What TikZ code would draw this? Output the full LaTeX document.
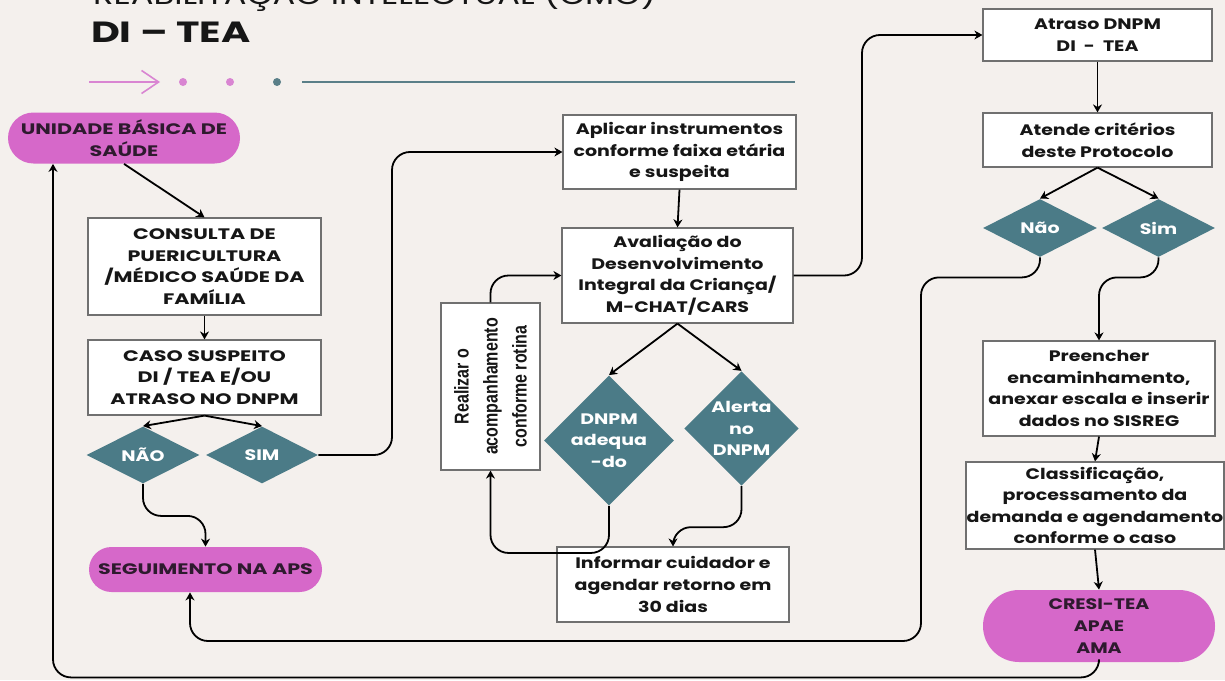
\documentclass[tikz,border=0pt]{standalone}
\usepackage{fontspec}
\usetikzlibrary{positioning, arrows.meta, calc, shapes.geometric, shapes.misc}
\newfontfamily\popfont{Poppins}[FakeStretch=1.25]
\newfontfamily\capfont{Poppins}[FakeStretch=1.36]
\newfontfamily\narrowfont{Liberation Sans}[FakeStretch=0.8]
\definecolor{paper}{HTML}{F4F0ED}
\definecolor{orchid}{HTML}{D668C9}
\definecolor{plum}{HTML}{2E1A2E}
\definecolor{slate}{HTML}{4B7B87}
\definecolor{edge}{HTML}{707070}
\definecolor{ink}{HTML}{161616}
\definecolor{rosy}{HTML}{D985D2}
\definecolor{steel}{HTML}{5A7F88}

\begin{document}
\begin{tikzpicture}[
  x=0.5pt, y=-0.5pt,
  font=\popfont\bfseries\fontsize{7.6}{10.8}\selectfont,
  every node/.style={align=center},
  caps/.style={font=\capfont\bfseries\fontsize{7.6}{10.8}\selectfont},
  box/.style={rectangle, draw=edge, line width=0.6pt, fill=white,
              inner sep=0pt, text=ink},
  pill/.style={rounded rectangle, fill=orchid, inner sep=0pt, text=plum},
  choice/.style={diamond, fill=slate, inner sep=0pt, text=white},
  arr/.style={-{Stealth[length=4pt,width=4.5pt]}, line width=0.9pt,
              rounded corners=9pt}
]
  \useasboundingbox (0,0) rectangle (1225,680);
  \clip (0,0) rectangle (1225,680);
  \fill[paper] (0,0) rectangle (1225,680);

  % header
  \node[anchor=base west, text=ink, font=\popfont\fontsize{13.5}{16}\selectfont]
    (heading) at (86,4.5) {REABILITAÇÃO INTELECTUAL (CMO)};
  \node[anchor=base west, text=ink, font=\capfont\bfseries\fontsize{14.6}{16}\selectfont]
    (subtitle) at (84,42) {DI – TEA};
  \draw[rosy, line width=0.8pt, -{Straight Barb[length=8.5pt,width=11.5pt]}] (89,82) -- (160,82);
  \fill[rosy] (183,82) circle (2pt);
  \fill[rosy] (230,82) circle (2pt);
  \fill[steel] (277,82) circle (2pt);
  \draw[steel, line width=1pt] (302,82) -- (795,82);

  % left column
  \node[pill, caps, minimum width=116pt, minimum height=25.5pt] (ubs) at (124,138)
    {UNIDADE BÁSICA DE\\SAÚDE};
  \node[box, caps, minimum width=116.5pt, minimum height=48.5pt] (consulta) at (204.5,266.5)
    {CONSULTA DE\\PUERICULTURA\\/MÉDICO SAÚDE DA\\FAMÍLIA};
  \node[box, caps, minimum width=116.5pt, minimum height=37.5pt] (caso) at (204.5,377.5)
    {CASO SUSPEITO\\DI / TEA E/OU\\ATRASO NO DNPM};
  \node[choice, minimum width=56.5pt, minimum height=28.5pt] (nao1) at (143,455) {NÃO};
  \node[choice, minimum width=56pt, minimum height=28.5pt] (sim1) at (262,455) {SIM};
  \node[pill, caps, minimum width=116.5pt, minimum height=22.5pt] (seg) at (205.5,569.5)
    {SEGUIMENTO NA APS};

  % middle column
  \node[box, minimum width=116.5pt, minimum height=37pt] (aplicar) at (679.5,152)
    {Aplicar instrumentos\\conforme faixa etária\\e suspeita};
  \node[box, minimum width=115.5pt, minimum height=47.5pt] (aval) at (677.5,275.5)
    {Avaliação do\\Desenvolvimento\\Integral da Criança/\\M-CHAT/CARS};
  \node[box, rotate=90, minimum width=83.5pt, minimum height=49.5pt,
        font=\narrowfont\bfseries\fontsize{10}{14.5}\selectfont] (realizar) at (490.5,386.5)
    {Realizar o\\acompanhamento\\conforme rotina};
  \node[choice, minimum width=63pt, minimum height=54.5pt] (adeq) at (609,440.5)
    {DNPM\\adequa\\-do};
  \node[choice, minimum width=56.5pt, minimum height=55.5pt] (alerta) at (741.5,428.5)
    {Alerta\\no\\DNPM};
  \node[box, minimum width=116pt, minimum height=37.5pt] (informar) at (673,584.5)
    {Informar cuidador e\\agendar retorno em\\30 dias};

  % right column
  \node[box, minimum width=114.5pt, minimum height=26pt] (atraso) at (1097.5,35)
    {Atraso DNPM\\DI \ - \ TEA};
  \node[box, minimum width=114.5pt, minimum height=27pt] (atende) at (1097.5,140)
    {Atende critérios\\deste Protocolo};
  \node[choice, minimum width=57pt, minimum height=29pt] (nao2) at (1040,228) {Não};
  \node[choice, minimum width=56.5pt, minimum height=29pt] (sim2) at (1158.5,228) {Sim};
  \node[box, minimum width=116pt, minimum height=47.5pt] (preencher) at (1099,388.5)
    {Preencher\\encaminhamento,\\anexar escala e inserir\\dados no SISREG};
  \node[box, minimum width=129pt, minimum height=43.5pt] (classif) at (1095,505.5)
    {Classificação,\\processamento da\\demanda e agendamento\\conforme o caso};
  \node[pill, minimum width=116pt, minimum height=36pt] (cresi) at (1099,626)
    {CRESI-TEA\\APAE\\AMA};

  % connectors
  \draw[arr] (ubs.south) -- (consulta.north);
  \draw[arr] (consulta.south) -- (caso.north);
  \draw[arr] (caso.south) -- (nao1.north);
  \draw[arr] (caso.south) -- (sim1.north);
  \draw[arr] (sim1.east) -| (392,152) -- (aplicar.west);
  \draw[arr] (nao1.south) -- ++(0,32) -| (seg.north);
  \draw[arr] (aplicar.south) -- (aval.north);
  \draw[arr] (aval.south) -- (adeq.north);
  \draw[arr] (aval.south) -- (alerta.north);
  \draw[arr] (aval.east) -| (862,35) -- (atraso.west);
  \draw[arr] (realizar.east) |- (aval.west);
  \draw[arr] (adeq.south) -- ++(0,47) -| (realizar.west);
  \draw[arr] (alerta.south) -- ++(0,41) -| (informar.north);
  \draw[arr] (atraso.south) -- (atende.north);
  \draw[arr] (atende.south) -- (nao2.north);
  \draw[arr] (atende.south) -- (sim2.north);
  \draw[arr] (sim2.south) -- ++(0,20) -| (preencher.north);
  \draw[arr] (nao2.south) -- ++(0,20) -| (921,641) -| ($(seg.south)+(-15.5,0)$);
  \draw[arr] (preencher.south) -- (classif.north);
  \draw[arr] (classif.south) -- (cresi.north);
  \draw[arr] (cresi.south) -- ++(0,15) -| ($(ubs.south)+(-71,0)$);
\end{tikzpicture}
\end{document}
